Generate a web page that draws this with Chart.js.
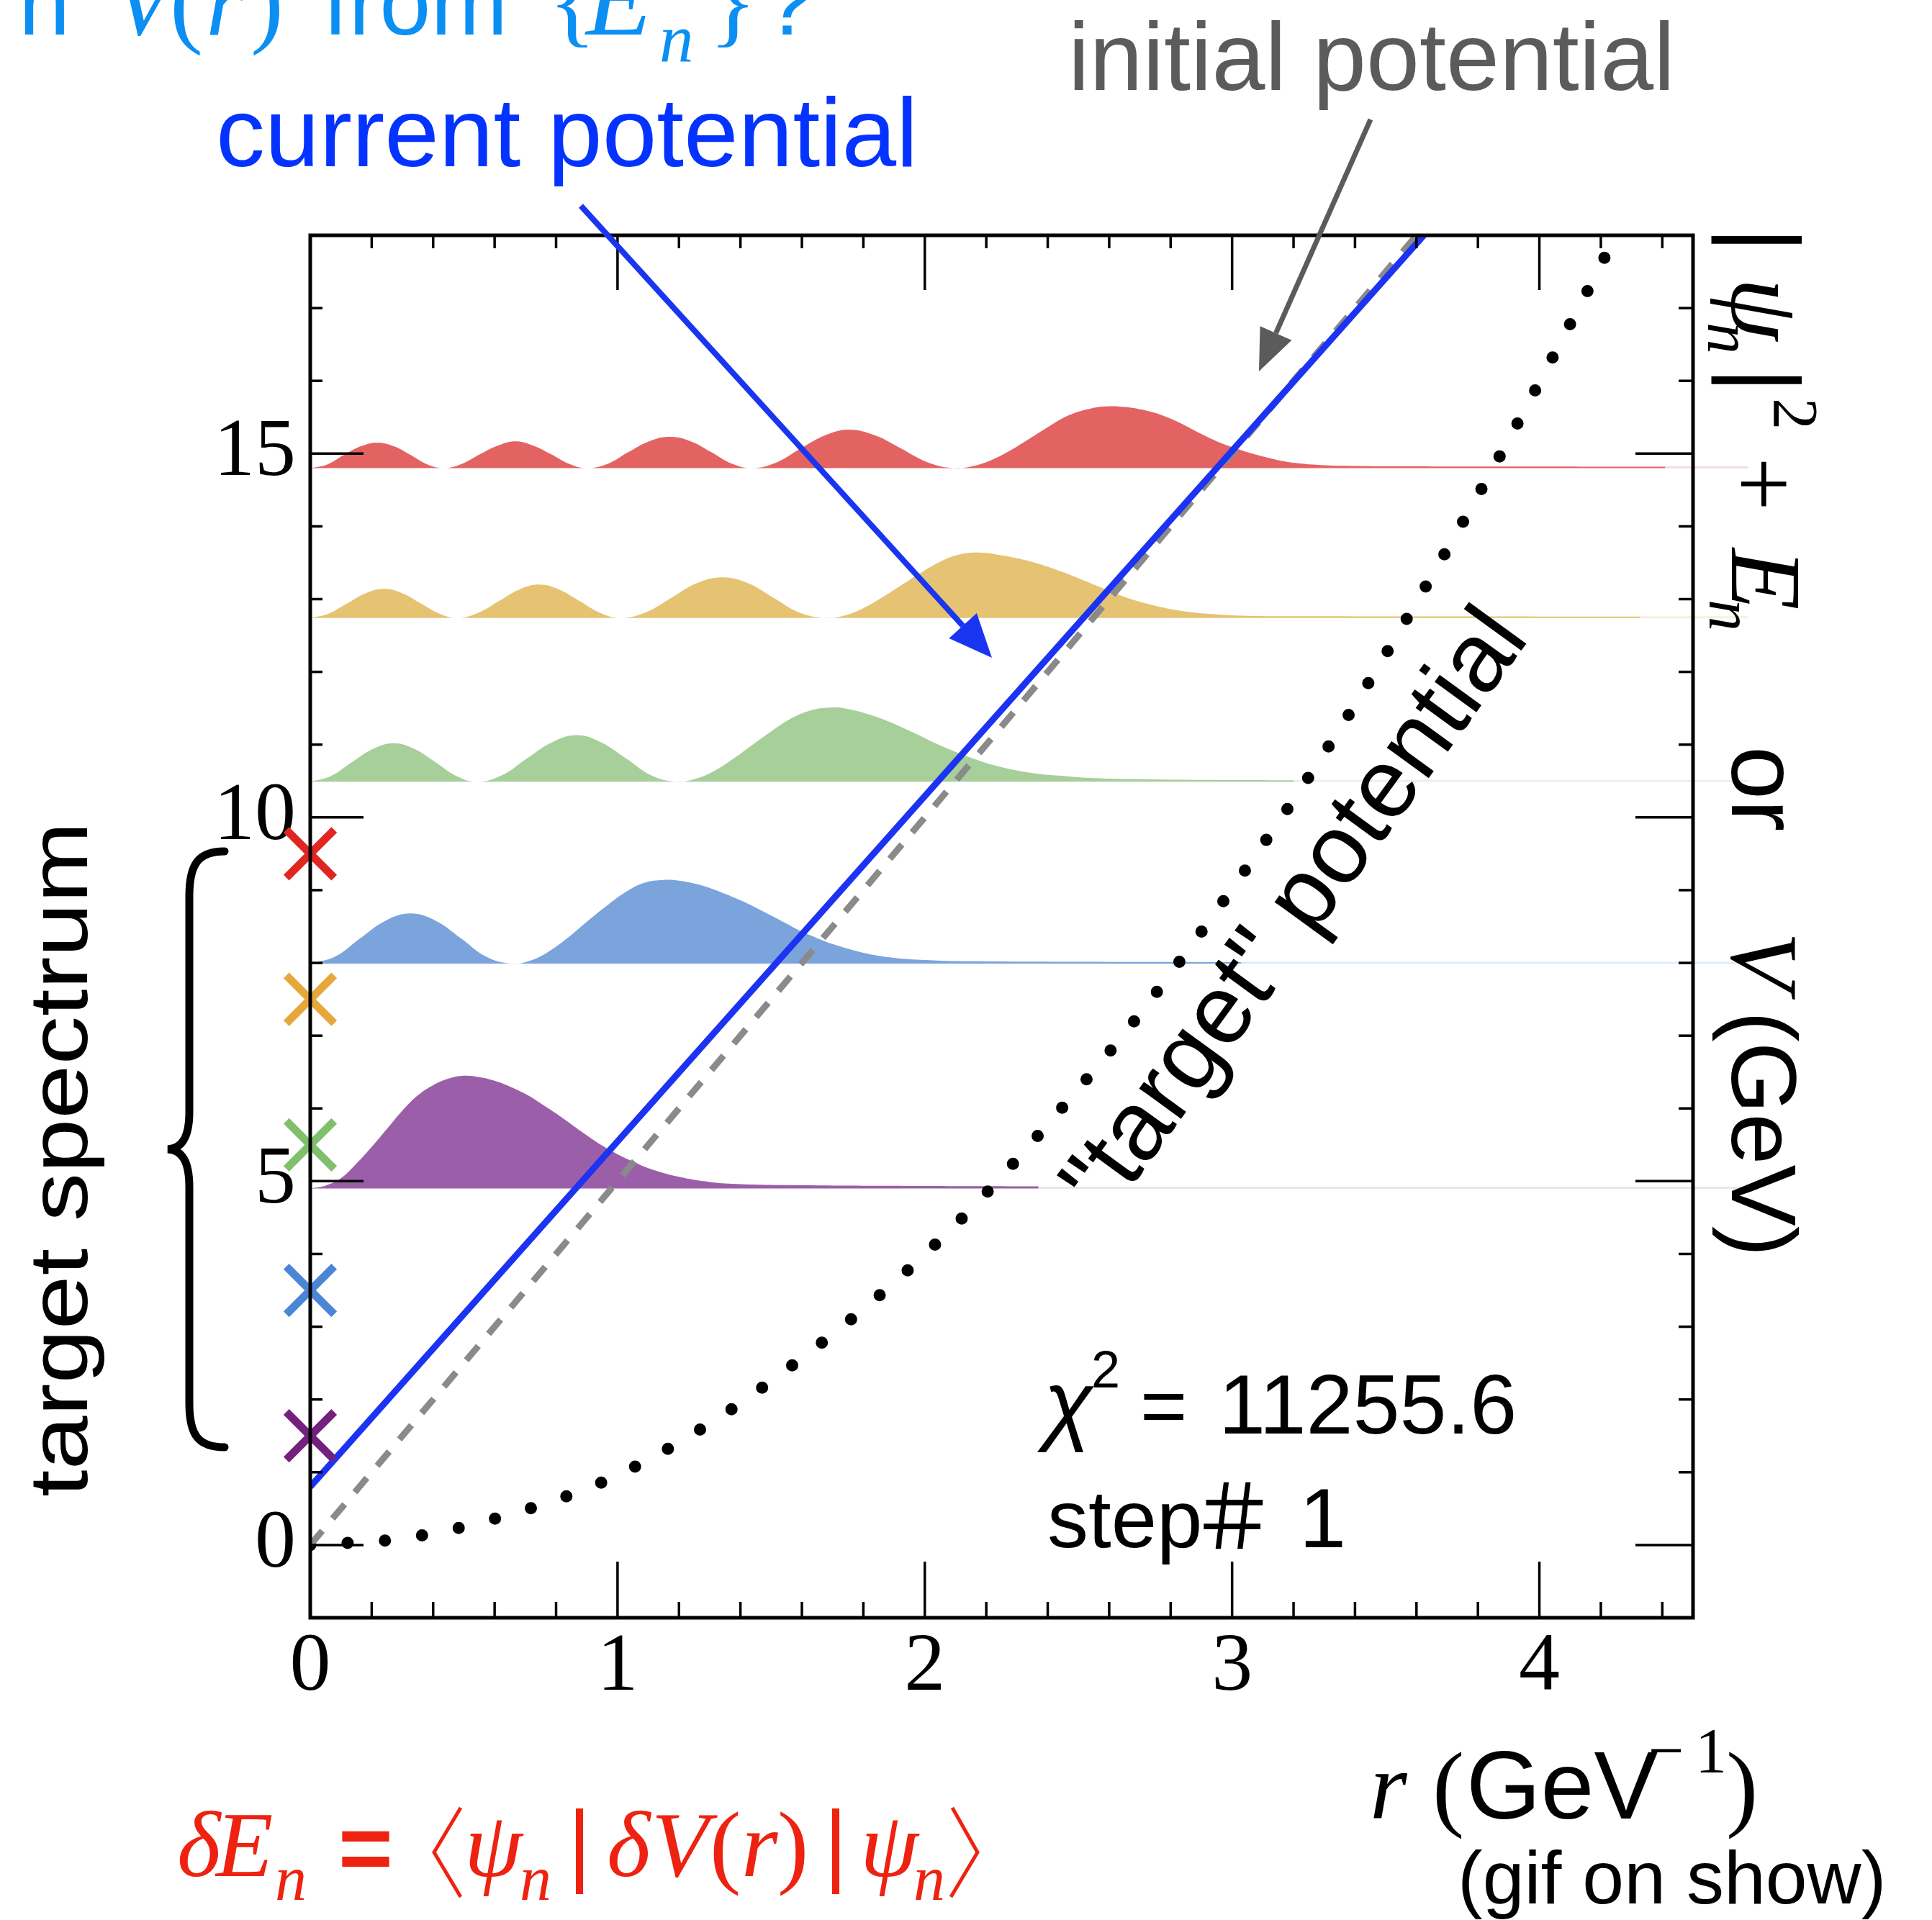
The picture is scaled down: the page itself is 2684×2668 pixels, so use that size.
<!DOCTYPE html>
<html><head><meta charset="utf-8">
<script src="https://cdn.jsdelivr.net/npm/chart.js@4.4.0/dist/chart.umd.min.js"></script>
<style>html,body{margin:0;padding:0;background:#fff;}canvas{display:block;}</style>
</head><body>
<canvas id="c" width="2684" height="2668" style="width:2684px;height:2668px"></canvas>
<script>
// ---------- axis ----------
const xRange = [0, 4.5];
const yRange = [-1, 18];
const xTickLabels = [0, 1, 2, 3, 4];
const yTickLabels = [0, 5, 10, 15];
const xMinorTicks = [0.2,0.4,0.6,0.8,1.2,1.4,1.6,1.8,2.2,2.4,2.6,2.8,3.2,3.4,3.6,3.8,4.2,4.4];
const yMinorTicks = [1,2,3,4,6,7,8,9,11,12,13,14,16,17];

// ---------- potentials ----------
const targetR = [0.00, 0.30, 0.60, 0.97, 1.30, 1.60, 1.89, 2.16, 2.41, 2.70, 3.085, 3.36, 3.62, 3.865, 4.10, 4.215, 4.30];
const targetV = [0.00, 0.09, 0.36, 0.90, 1.67, 2.57, 3.57, 4.66, 5.83, 7.30, 9.53, 11.28, 13.10, 14.92, 16.78, 17.72, 18.50];
const initialR = [0.00, 3.62];
const initialV = [0.00, 18.10];
const currentR = [0.00, 3.645];
const currentV = [0.80, 18.10];

// ---------- target spectrum (x markers at r = 0) ----------
const targetE = [1.5, 3.5, 5.5, 7.5, 9.5];
const markerColors = ['#74207f', '#4b86d6', '#80c06c', '#e6a83a', '#e02620'];

// ---------- |psi_n|^2 + E_n ----------
const E1 = 4.90;
const psi1R = [0.00, 0.05, 0.10, 0.15, 0.20, 0.25, 0.30, 0.35, 0.40, 0.45, 0.50, 0.55, 0.60, 0.65, 0.70, 0.75, 0.80, 0.85, 0.90, 0.95, 1.00, 1.05, 1.10, 1.20, 1.30, 1.40, 1.60, 2.00, 2.37];
const psi1  = [0.00, 0.04, 0.14, 0.34, 0.57, 0.82, 1.07, 1.28, 1.42, 1.51, 1.55, 1.53, 1.48, 1.40, 1.30, 1.17, 1.03, 0.88, 0.73, 0.59, 0.47, 0.37, 0.28, 0.16, 0.09, 0.06, 0.045, 0.035, 0.03];

const E2 = 7.99;
const psi2R = [0.00, 0.082, 0.163, 0.245, 0.327, 0.408, 0.49, 0.571, 0.653, 0.715, 0.777, 0.839, 0.901, 0.963, 1.025, 1.087, 1.15, 1.20, 1.25, 1.30, 1.35, 1.40, 1.45, 1.50, 1.55, 1.60, 1.65, 1.70, 1.80, 1.90, 2.00, 2.10, 2.50, 3.03];
const psi2  = [0.00, 0.10, 0.35, 0.59, 0.69, 0.59, 0.35, 0.10, 0.00, 0.04, 0.17, 0.36, 0.58, 0.79, 0.98, 1.11, 1.15, 1.14, 1.10, 1.04, 0.96, 0.87, 0.77, 0.66, 0.55, 0.44, 0.35, 0.27, 0.15, 0.08, 0.05, 0.035, 0.025, 0.02];

const E3 = 10.49;
const psi3R = [0.00, 0.068, 0.136, 0.204, 0.272, 0.339, 0.407, 0.475, 0.543, 0.624, 0.705, 0.786, 0.867, 0.947, 1.028, 1.109, 1.19, 1.253, 1.315, 1.378, 1.44, 1.503, 1.565, 1.628, 1.69, 1.75, 1.85, 1.95, 2.05, 2.15, 2.25, 2.35, 2.45, 2.55, 2.70, 2.90, 3.20];
const psi3  = [0.00, 0.08, 0.27, 0.45, 0.53, 0.45, 0.27, 0.08, 0.00, 0.09, 0.32, 0.54, 0.64, 0.54, 0.32, 0.09, 0.00, 0.04, 0.15, 0.32, 0.51, 0.70, 0.87, 0.98, 1.02, 1.00, 0.88, 0.70, 0.50, 0.33, 0.20, 0.12, 0.08, 0.05, 0.035, 0.025, 0.02];

const E4 = 12.74;
const psi4R = [0.00, 0.06, 0.12, 0.18, 0.24, 0.30, 0.36, 0.42, 0.48, 0.546, 0.613, 0.679, 0.745, 0.811, 0.878, 0.944, 1.01, 1.093, 1.176, 1.258, 1.341, 1.424, 1.507, 1.589, 1.672, 1.735, 1.797, 1.86, 1.923, 1.986, 2.048, 2.111, 2.174, 2.25, 2.35, 2.45, 2.55, 2.65, 2.75, 2.85, 2.95, 3.05, 3.20, 4.33];
const psi4  = [0.00, 0.06, 0.20, 0.34, 0.40, 0.34, 0.20, 0.06, 0.00, 0.07, 0.23, 0.39, 0.46, 0.39, 0.23, 0.07, 0.00, 0.08, 0.28, 0.48, 0.56, 0.48, 0.28, 0.08, 0.00, 0.03, 0.13, 0.28, 0.45, 0.62, 0.77, 0.87, 0.90, 0.86, 0.77, 0.63, 0.46, 0.29, 0.17, 0.09, 0.05, 0.03, 0.025, 0.02];

const E5 = 14.80;
const psi5R = [0.00, 0.055, 0.109, 0.164, 0.218, 0.273, 0.327, 0.382, 0.436, 0.494, 0.552, 0.61, 0.668, 0.726, 0.784, 0.842, 0.90, 0.968, 1.035, 1.103, 1.17, 1.238, 1.305, 1.373, 1.44, 1.518, 1.596, 1.675, 1.753, 1.838, 1.923, 2.009, 2.094, 2.158, 2.221, 2.285, 2.35, 2.41, 2.47, 2.54, 2.60, 2.65, 2.70, 2.75, 2.80, 2.85, 2.90, 2.95, 3.00, 3.05, 3.10, 3.15, 3.20, 3.30, 3.40, 3.50, 4.41];
const psi5  = [0.00, 0.05, 0.18, 0.30, 0.35, 0.30, 0.18, 0.05, 0.00, 0.06, 0.19, 0.31, 0.37, 0.31, 0.19, 0.06, 0.00, 0.06, 0.22, 0.37, 0.43, 0.37, 0.22, 0.06, 0.00, 0.08, 0.27, 0.45, 0.53, 0.45, 0.27, 0.08, 0.00, 0.03, 0.12, 0.26, 0.43, 0.59, 0.73, 0.82, 0.85, 0.84, 0.81, 0.76, 0.68, 0.58, 0.47, 0.37, 0.29, 0.22, 0.16, 0.11, 0.075, 0.04, 0.03, 0.025, 0.02];

// faint continuation of each baseline toward (and a little past) the right frame
const faintStart = [2.37, 3.03, 3.20, 4.33, 4.41];
const faintEnd = 4.68;
const faintColors = ['rgba(155,95,169,0.18)', 'rgba(123,164,220,0.22)', 'rgba(167,207,153,0.25)', 'rgba(229,195,115,0.25)', 'rgba(227,99,99,0.22)'];
const baselines = [E1, E2, E3, E4, E5];

const pts = (xs, ys, off = 0) => xs.map((x, i) => ({x, y: ys[i] + off}));

function waveSet(R, P, E, color) {
  return {
    data: pts(R, P, E), fill: {value: E}, backgroundColor: color,
    borderColor: 'rgba(0,0,0,0)', borderWidth: 0, pointRadius: 0,
    cubicInterpolationMode: 'default', tension: 0.4, order: 10
  };
}

const datasets = [
  {data: targetE.map(e => ({x: 0, y: e})), showLine: false, pointStyle: 'crossRot',
   pointRadius: 47, pointBorderWidth: 11, borderWidth: 11, pointBorderColor: markerColors, pointBackgroundColor: markerColors,
   clip: false, order: 0},
  {data: pts(currentR, currentV), borderColor: '#1d33f2', borderWidth: 9, pointRadius: 0, fill: false, order: 1},
  {data: pts(initialR, initialV), borderColor: '#8a8a8a', borderWidth: 9, borderDash: [26, 22], pointRadius: 0, fill: false, order: 2},
  {data: pts(targetR, targetV), borderColor: '#000', borderWidth: 17, borderDash: [0, 52], borderCapStyle: 'round',
   cubicInterpolationMode: 'monotone', pointRadius: 0, fill: false, order: 3},
  waveSet(psi5R, psi5, E5, '#e36363'),
  waveSet(psi4R, psi4, E4, '#e5c373'),
  waveSet(psi3R, psi3, E3, '#a7cf99'),
  waveSet(psi2R, psi2, E2, '#7ba4dc'),
  waveSet(psi1R, psi1, E1, '#9b5fa9'),
  ...baselines.map((E, i) => ({
    data: [{x: faintStart[i], y: E + 0.01}, {x: faintEnd, y: E + 0.01}], borderColor: faintColors[i], borderWidth: 3,
    pointRadius: 0, fill: false, order: 11, clip: {left: 0, top: 0, right: 80, bottom: 0}
  }))
];

function line(ctx, x1, y1, x2, y2) { ctx.beginPath(); ctx.moveTo(x1, y1); ctx.lineTo(x2, y2); ctx.stroke(); }
function txt(ctx, s, x, y, font, color, align) {
  ctx.font = font; ctx.fillStyle = color; ctx.textAlign = align || 'left'; ctx.textBaseline = 'alphabetic';
  ctx.fillText(s, x, y);
}
function arrow(ctx, x1, y1, x2, y2, color, w, hl, hw) {
  const ang = Math.atan2(y2 - y1, x2 - x1);
  const bx = x2 - hl * Math.cos(ang), by = y2 - hl * Math.sin(ang);
  ctx.strokeStyle = color; ctx.fillStyle = color; ctx.lineWidth = w; ctx.lineCap = 'butt';
  line(ctx, x1, y1, bx, by);
  ctx.beginPath();
  ctx.moveTo(x2, y2);
  ctx.lineTo(bx + hw * Math.sin(ang), by - hw * Math.cos(ang));
  ctx.lineTo(bx - hw * Math.sin(ang), by + hw * Math.cos(ang));
  ctx.closePath(); ctx.fill();
}

const SANS = '"Liberation Sans", Arial, sans-serif';
const SERIF = '"Liberation Serif", "Times New Roman", serif';

const deco = {
  id: 'deco',
  afterDatasetsDraw(chart) {
    const ctx = chart.ctx, a = chart.chartArea, xs = chart.scales.x, ys = chart.scales.y;
    ctx.save();
    ctx.strokeStyle = '#000'; ctx.lineCap = 'butt';
    ctx.lineWidth = 3.5;
    xTickLabels.forEach(v => { const p = xs.getPixelForValue(v); line(ctx, p, a.bottom, p, a.bottom - 78); line(ctx, p, a.top, p, a.top + 76); });
    xMinorTicks.forEach(v => { const p = xs.getPixelForValue(v); line(ctx, p, a.bottom, p, a.bottom - 22); line(ctx, p, a.top, p, a.top + 18); });
    yTickLabels.forEach(v => { const p = ys.getPixelForValue(v); line(ctx, a.left, p, a.left + 74, p); line(ctx, a.right, p, a.right - 80, p); });
    yMinorTicks.forEach(v => { const p = ys.getPixelForValue(v); line(ctx, a.left, p, a.left + 17, p); line(ctx, a.right, p, a.right - 20, p); });
    ctx.lineWidth = 5;
    ctx.strokeRect(a.left, a.top, a.right - a.left, a.bottom - a.top);
    ctx.restore();
  },
  afterDraw(chart) {
    const ctx = chart.ctx;
    ctx.save();
    // top-left question (cut off by the top edge)
    const qc = '#0b8ff2';
    txt(ctx, 'n', 26, 48, '128px ' + SANS, qc);
    txt(ctx, 'V', 156, 48, 'italic 138px ' + SERIF, qc);
    txt(ctx, '(', 236, 48, '138px ' + SERIF, qc);
    txt(ctx, 'r', 286, 48, 'italic 138px ' + SERIF, qc);
    txt(ctx, ')', 348, 48, '138px ' + SERIF, qc);
    txt(ctx, 'from', 449, 48, '128px ' + SANS, qc);
    txt(ctx, '{', 762, 48, '138px ' + SERIF, qc);
    txt(ctx, 'E', 814, 48, 'italic 150px ' + SERIF, qc);
    txt(ctx, 'n', 916, 86, 'italic 95px ' + SERIF, qc);
    txt(ctx, '}', 985, 48, '138px ' + SERIF, qc);
    txt(ctx, '?', 1060, 48, '128px ' + SANS, qc);

    txt(ctx, 'current potential', 300, 231, '136px ' + SANS, '#0433ff');
    txt(ctx, 'initial potential', 1484, 125, '133px ' + SANS, '#5b5b5b');

    arrow(ctx, 807, 286, 1378, 914, '#1a35f0', 8, 60, 26);
    arrow(ctx, 1904, 166, 1749, 516, '#5b5b5b', 7, 58, 24);

    // target spectrum + brace
    ctx.save();
    ctx.translate(121, 2080); ctx.rotate(-Math.PI / 2); ctx.scale(1, 0.85);
    txt(ctx, 'target spectrum', 0, 0, '135px ' + SANS, '#000');
    ctx.restore();
    ctx.strokeStyle = '#000'; ctx.lineWidth = 11; ctx.lineCap = 'round';
    ctx.beginPath();
    ctx.moveTo(312, 1183);
    ctx.bezierCurveTo(276, 1183, 263, 1200, 263, 1245);
    ctx.lineTo(263, 1545);
    ctx.bezierCurveTo(263, 1582, 252, 1596, 233, 1597);
    ctx.bezierCurveTo(252, 1598, 263, 1612, 263, 1650);
    ctx.lineTo(263, 1950);
    ctx.bezierCurveTo(263, 1995, 276, 2011, 312, 2011);
    ctx.stroke();

    // "target" potential
    ctx.save();
    ctx.translate(1833, 1290); ctx.rotate(-54 * Math.PI / 180);
    txt(ctx, '"target" potential', 0, 0, '136px ' + SANS, '#000', 'center');
    ctx.restore();

    // right axis label
    ctx.save();
    ctx.translate(2406, 0); ctx.rotate(Math.PI / 2);
    txt(ctx, '|', 316, 0, '133px ' + SANS, '#000');
    txt(ctx, 'ψ', 386, 0, 'italic 140px ' + SERIF, '#000');
    txt(ctx, 'n', 448, 33, 'italic 88px ' + SERIF, '#000');
    txt(ctx, '|', 511, 0, '133px ' + SANS, '#000');
    txt(ctx, '2', 553, -59, '88px ' + SERIF, '#000');
    txt(ctx, '+', 635, 0, '133px ' + SERIF, '#000');
    txt(ctx, 'E', 762, 0, 'italic 140px ' + SERIF, '#000');
    txt(ctx, 'n', 833, 31, 'italic 88px ' + SERIF, '#000');
    txt(ctx, 'or', 1037, 0, '133px ' + SANS, '#000');
    txt(ctx, 'V', 1295, 0, 'italic 133px ' + SERIF, '#000');
    txt(ctx, '(GeV)', 1405, 0, '128px ' + SANS, '#000');
    ctx.restore();

    // chi^2 / step
    txt(ctx, 'χ', 1450, 1992, 'italic 125px ' + SANS, '#000');
    txt(ctx, '2', 1516, 1928, '72px ' + SANS, '#000');
    txt(ctx, '=', 1584, 1992, '112px ' + SANS, '#000');
    txt(ctx, '11255.6', 1693, 1992, '117px ' + SANS, '#000');
    txt(ctx, 'step', 1455, 2150, '114px ' + SANS, '#000');
    txt(ctx, '＃', 1652, 2152, '122px "Noto Sans CJK JP", sans-serif', '#000');
    txt(ctx, '1', 1805, 2150, '117px ' + SANS, '#000');

    // x axis title
    txt(ctx, 'r', 1903, 2527, 'italic 133px ' + SERIF, '#000');
    txt(ctx, '(', 1990, 2527, '133px ' + SERIF, '#000');
    txt(ctx, 'GeV', 2037, 2527, '133px ' + SANS, '#000');
    txt(ctx, '−', 2290, 2462, '88px ' + SERIF, '#000');
    txt(ctx, '1', 2355, 2462, '88px ' + SERIF, '#000');
    txt(ctx, ')', 2398, 2527, '133px ' + SERIF, '#000');
    txt(ctx, '(gif on show)', 2025, 2645, '104px ' + SANS, '#000');

    // red formula
    const rc = '#ee2211';
    const F = 'italic 130px ' + SERIF, FS = 'italic 88px ' + SERIF;
    txt(ctx, 'δ', 246, 2607, F, rc);
    txt(ctx, 'E', 300, 2607, F, rc);
    txt(ctx, 'n', 382, 2640, FS, rc);
    txt(ctx, '=', 470, 2612, 'bold 130px ' + SANS, rc);
    txt(ctx, 'ψ', 645, 2607, F, rc);
    txt(ctx, 'n', 722, 2640, FS, rc);
    txt(ctx, 'δ', 843, 2607, F, rc);
    txt(ctx, 'V', 905, 2607, F, rc);
    txt(ctx, '(', 986, 2607, '130px ' + SERIF, rc);
    txt(ctx, 'r', 1030, 2607, F, rc);
    txt(ctx, ')', 1080, 2607, '130px ' + SERIF, rc);
    txt(ctx, 'ψ', 1195, 2607, F, rc);
    txt(ctx, 'n', 1269, 2640, FS, rc);
    ctx.strokeStyle = rc; ctx.fillStyle = rc; ctx.lineWidth = 5; ctx.lineCap = 'butt';
    ctx.beginPath(); ctx.moveTo(640, 2512); ctx.lineTo(603, 2574); ctx.lineTo(640, 2636); ctx.stroke();
    ctx.beginPath(); ctx.moveTo(1323, 2512); ctx.lineTo(1358, 2574); ctx.lineTo(1321, 2636); ctx.stroke();
    ctx.fillRect(800, 2513, 10, 119);
    ctx.fillRect(1156, 2513, 10, 119);
    ctx.restore();
  }
};

new Chart(document.getElementById('c'), {
  type: 'line',
  data: {datasets},
  options: {
    responsive: false, animation: false, devicePixelRatio: 1,
    layout: {padding: {left: 231, right: 332, top: 327, bottom: 220}},
    plugins: {legend: {display: false}, tooltip: {enabled: false}},
    scales: {
      x: {type: 'linear', min: xRange[0], max: xRange[1],
          grid: {display: false, drawTicks: false}, border: {display: false},
          afterBuildTicks: s => { s.ticks = xTickLabels.map(v => ({value: v})); },
          ticks: {font: {family: 'Liberation Serif', size: 114}, color: '#000', padding: 2, maxRotation: 0, autoSkip: false,
                  callback: v => String(v)},
          afterFit: s => { s.height = 200; }},
      y: {type: 'linear', min: yRange[0], max: yRange[1],
          grid: {display: false, drawTicks: false}, border: {display: false},
          afterBuildTicks: s => { s.ticks = yTickLabels.map(v => ({value: v})); },
          ticks: {font: {family: 'Liberation Serif', size: 114}, color: '#000', padding: 20, autoSkip: false,
                  callback: v => String(v)},
          afterFit: s => { s.width = 200; }}
    }
  },
  plugins: [deco]
});
</script>
</body></html>
